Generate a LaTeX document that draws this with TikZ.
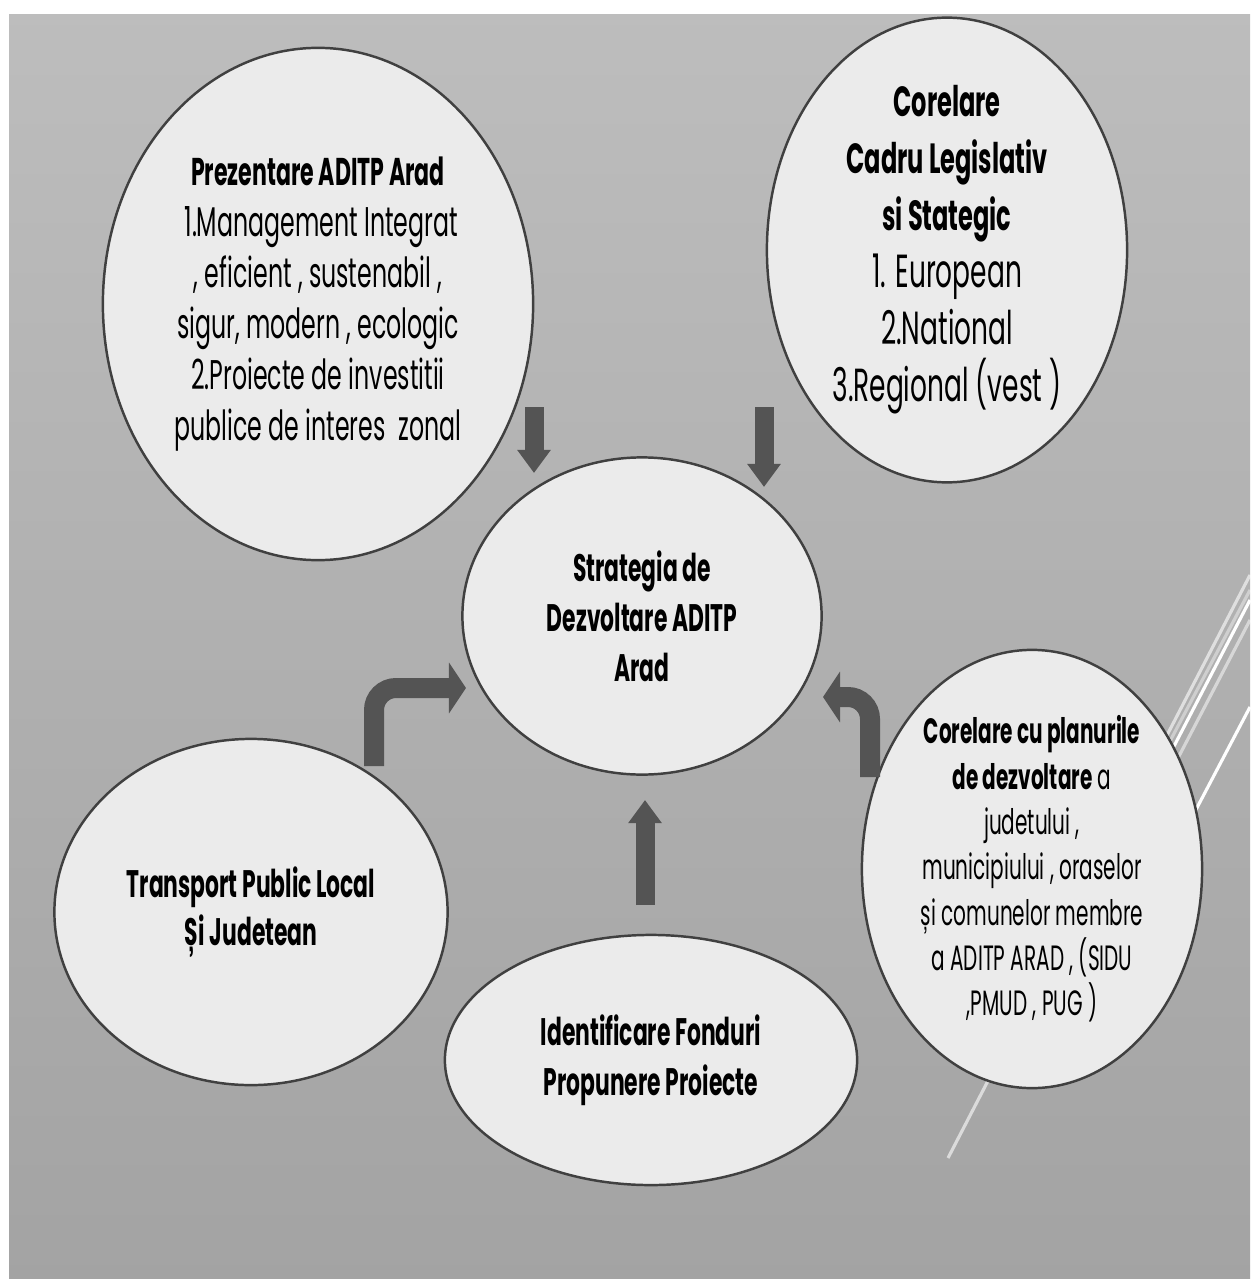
\documentclass[tikz,border=0pt]{standalone}
\usepackage{fontspec}
\setmainfont{Poppins}[FakeStretch=0.57]
\usetikzlibrary{shapes.geometric,arrows.meta}

\begin{document}
\begin{tikzpicture}[x=0.01cm, y=-0.01cm,
	bubble/.style={draw=black!75, line width=0.7pt, fill=black!8, shape=ellipse, inner sep=0pt, align=center},
	bigarrow/.style={draw=black!67, line width=0.19cm, -{Triangle[width=0.32cm,length=0.23cm]}},
	bendarrow/.style={draw=black!67, line width=0.2cm, rounded corners=0.22cm, -{Triangle[width=0.5cm,length=0.17cm]}},
	streak/.style={draw=white, line width=0.9pt}]
	\useasboundingbox (0,0) rectangle (1250,1279);
	\fill[white] (0,0) rectangle (1250,1279);
	\shade[top color=black!26, middle color=black!20, bottom color=black!36] (9,15) rectangle (1250,1279);

	% white streaks on the right
	\draw[streak, opacity=0.6] (1250,575) -- (948,1158);
	\draw[streak] (1250,600) -- (1120,850);
	\draw[streak, opacity=0.5] (1250,620) -- (1130,850);
	\draw[streak, opacity=0.4] (1250,590) -- (1160,760);
	\draw[streak] (1250,707) -- (1180,840);

	\node[bubble, minimum width=4.30cm, minimum height=5.12cm, font=\fontsize{11.8}{14.5}\selectfont] (prez) at (318,304)
		{\fontsize{11}{14.5}\selectfont\bfseries Prezentare ADITP Arad\\
		 \ 1.Management Integrat\\
		 , eficient , sustenabil ,\\
		 sigur, modern , ecologic\\
		 2.Proiecte de investitii\\
		 publice de interes\ \ zonal};
	\node[bubble, minimum width=3.60cm, minimum height=4.40cm, font=\fontsize{13.2}{16.2}\selectfont] (cadru) at (947,250)
		{\fontsize{12}{16.2}\selectfont\bfseries Corelare\\
		 \fontsize{12}{16.2}\selectfont\bfseries Cadru Legislativ\\
		 \fontsize{12}{16.2}\selectfont\bfseries si Stategic\\
		 1. European\\
		 2.National\\
		 3.Regional (vest )};
	\node[bubble, minimum width=3.59cm, minimum height=3.17cm, font=\fontsize{10.9}{14.2}\selectfont\bfseries] (strat) at (642,616)
		{Strategia de\\
		 Dezvoltare ADITP\\
		 Arad};
	\node[bubble, minimum width=3.93cm, minimum height=3.46cm, font=\fontsize{10.9}{13.6}\selectfont\bfseries] (transp) at (251,912)
		{Transport Public Local\\
		 Și Judetean};
	\node[bubble, minimum width=4.12cm, minimum height=2.50cm, font=\fontsize{10.9}{14.2}\selectfont\bfseries] (fonduri) at (651,1060)
		{Identificare Fonduri\\
		 Propunere Proiecte};
	\node[bubble, minimum width=3.40cm, minimum height=4.38cm, font=\fontsize{10}{12.9}\selectfont] (planuri) at (1032,869)
		{\textbf{Corelare cu planurile}\\
		 \textbf{de dezvoltare} a\\
		 judetului ,\\
		 municipiului , oraselor\\
		 și comunelor membre\\
		 a ADITP ARAD , (SIDU\\
		 ,PMUD , PUG )};

	\coordinate (a1s) at (534,407);
	\coordinate (a1e) at (534,473);
	\coordinate (a2s) at (764,407);
	\coordinate (a2e) at (764,487);
	\coordinate (a3s) at (374,766);
	\coordinate (a3e) at (466,688);
	\coordinate (a4s) at (870,777);
	\coordinate (a4e) at (823,697);
	\coordinate (a5s) at (645,905);
	\coordinate (a5e) at (645,800);

	\draw[bigarrow] (a1s) -- (a1e);
	\draw[bigarrow] (a2s) -- (a2e);
	\draw[bendarrow] (a3s) |- (a3e);
	\draw[bendarrow] (a4s) |- (a4e);
	\draw[bigarrow] (a5s) -- (a5e);
\end{tikzpicture}
\end{document}
